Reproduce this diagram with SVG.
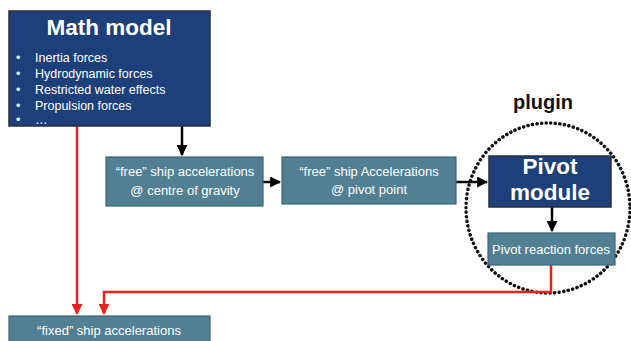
<svg xmlns="http://www.w3.org/2000/svg" width="631" height="341" viewBox="0 0 631 341">
<style>
.navy{fill:#1d3f7a;stroke:#2a2f3a;stroke-width:1.5}
.teal{fill:#527f93;stroke:#3d6577;stroke-width:1.2}
.t{font-family:"Liberation Sans",Arial,sans-serif;fill:#fff}
.big{font-size:22.5px;font-weight:bold}
.sm{font-size:12.5px}
.md{font-size:13px}
.blk{stroke:#000;stroke-width:2.5;fill:none}
.red{stroke:#e8231f;stroke-width:2.5;fill:none}
</style>
<defs>
<marker id="ab" viewBox="0 0 10 10" refX="9" refY="5" markerWidth="4.4" markerHeight="4.4" orient="auto"><path d="M0,0 L10,5 L0,10 z" fill="#000"/></marker>
<marker id="ar" viewBox="0 0 10 10" refX="9" refY="5" markerWidth="4.4" markerHeight="4.4" orient="auto"><path d="M0,0 L10,5 L0,10 z" fill="#e8231f"/></marker>
</defs>
<rect width="631" height="341" fill="#fff"/>
<g id="plugin">
<ellipse cx="548" cy="208" rx="82" ry="85" fill="none" stroke="#111" stroke-width="3.5" stroke-dasharray="0.1 4.5" stroke-linecap="round"/>
<text x="543" y="109" font-family="Liberation Sans,Arial,sans-serif" font-size="20" font-weight="bold" text-anchor="middle" fill="#111">plugin</text>
</g>
<g id="connectors">
<path class="blk" d="M182,126 V155" marker-end="url(#ab)"/>
<path class="blk" d="M263,182 H280" marker-end="url(#ab)"/>
<path class="blk" d="M456,182 H487" marker-end="url(#ab)"/>
<path class="blk" d="M552,207 V231" marker-end="url(#ab)"/>
<path class="red" d="M77,126 V314" marker-end="url(#ar)"/>
<path class="red" d="M551,265 V292 H104 V314" marker-end="url(#ar)"/>
</g>
<g id="math-model">
<rect class="navy" x="9" y="11" width="201" height="115"/>
<text class="t big" x="109" y="35" text-anchor="middle">Math model</text>
<g class="t sm">
<text x="16" y="62">•</text><text x="35" y="62">Inertia forces</text>
<text x="16" y="78">•</text><text x="35" y="78">Hydrodynamic forces</text>
<text x="16" y="94">•</text><text x="35" y="94">Restricted water effects</text>
<text x="16" y="110">•</text><text x="35" y="110">Propulsion forces</text>
<text x="16" y="124">•</text><text x="35" y="124">…</text>
</g>
</g>
<g id="free-cog">
<rect class="teal" x="106" y="157" width="157" height="49"/>
<text class="t md" x="185" y="176" text-anchor="middle">“free” ship accelerations</text>
<text class="t md" x="185" y="195" text-anchor="middle">@ centre of gravity</text>
</g>
<g id="free-pivot">
<rect class="teal" x="282" y="157" width="174" height="47"/>
<text class="t md" x="369" y="176" text-anchor="middle">“free” ship Accelerations</text>
<text class="t md" x="369" y="194" text-anchor="middle">@ pivot point</text>
</g>
<g id="pivot-module">
<rect class="navy" x="489" y="156" width="122" height="51"/>
<text class="t big" x="550" y="174" text-anchor="middle">Pivot</text>
<text class="t big" x="550" y="200" text-anchor="middle">module</text>
</g>
<g id="pivot-reaction">
<rect class="teal" x="488" y="233" width="127" height="32"/>
<text class="t md" x="551" y="254" text-anchor="middle">Pivot reaction forces</text>
</g>
<g id="fixed">
<rect class="teal" x="9" y="316" width="201" height="30"/>
<text class="t md" x="109" y="335" text-anchor="middle">“fixed” ship accelerations</text>
</g>
</svg>
